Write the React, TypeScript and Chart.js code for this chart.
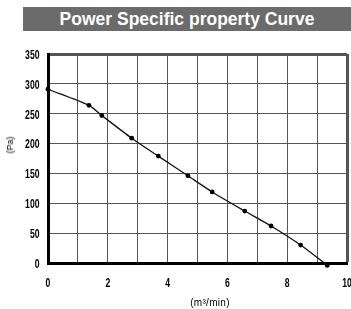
import React, { useEffect, useRef } from "react";
import { Chart, registerables } from "chart.js";

Chart.register(...registerables);

const chartTitle = "Power Specific property Curve";
const xAxisTitle = "(m³/min)";
const yAxisTitle = "(Pa)";
const flowValues = [0, 1.37, 1.8, 2.8, 3.69, 4.68, 5.49, 6.58, 7.46, 8.45, 9.34];
const pressureValues = [291, 264, 247, 209, 179, 146, 119, 87, 62, 30, -4];
const xMin = 0;
const xMax = 10;
const xLabelStep = 2;
const yMin = 0;
const yMax = 350;
const yStep = 50;

const TICK_FONT = "bold 12px 'Liberation Sans', Arial, sans-serif";
const TICK_SQUEEZE = 0.72;

const narrowTickLabels = {
  id: "narrowTickLabels",
  afterDraw(chart: any) {
    const ctx = chart.ctx;
    const xs = chart.scales.x;
    const ys = chart.scales.y;
    ctx.save();
    ctx.fillStyle = "#000";
    ctx.font = TICK_FONT;
    // y labels
    ctx.textAlign = "right";
    ctx.textBaseline = "middle";
    for (const t of ys.ticks) {
      const py = ys.getPixelForValue(t.value) + 1.5;
      ctx.save();
      ctx.translate(39.5, py);
      ctx.scale(TICK_SQUEEZE, 1);
      ctx.fillText(String(t.value), 0, 0);
      ctx.restore();
    }
    // x labels
    ctx.textAlign = "center";
    for (const t of xs.ticks) {
      if (t.value % xLabelStep !== 0) continue;
      const px = xs.getPixelForValue(t.value);
      ctx.save();
      ctx.translate(px, 284);
      ctx.scale(TICK_SQUEEZE, 1);
      ctx.fillText(String(t.value), 0, 0);
      ctx.restore();
    }
    ctx.restore();
  },
};

export default function App() {
  const canvasRef = useRef<HTMLCanvasElement | null>(null);

  useEffect(() => {
    document.body.style.margin = "0";
    const canvas = canvasRef.current;
    if (!canvas) return;
    const chart = new Chart(canvas, {
      type: "line",
      data: {
        datasets: [
          {
            data: flowValues.map((x, i) => ({ x, y: pressureValues[i] })),
            borderColor: "#111",
            borderWidth: 1.3,
            backgroundColor: "#000",
            pointRadius: 2.4,
            pointBorderWidth: 0,
            pointBackgroundColor: "#000",
            tension: 0.25,
            clip: 10,
          },
        ],
      },
      plugins: [narrowTickLabels],
      options: {
        responsive: false,
        animation: false,
        devicePixelRatio: 1,
        layout: { padding: { top: 54, right: 1, left: 0, bottom: 0 } },
        plugins: { legend: { display: false }, tooltip: { enabled: false }, title: { display: false } },
        scales: {
          x: {
            type: "linear",
            min: xMin,
            max: xMax,
            ticks: { stepSize: 1, autoSkip: false, display: false },
            grid: {
              drawTicks: false,
              color: "#555",
              lineWidth: (ctx: any) => (ctx.tick && ctx.tick.value === xMax ? 3 : 1),
            },
            border: { display: true, width: 3, color: "#000" },
            afterFit: (scale: any) => {
              scale.height = 46;
              scale.paddingLeft = 0;
              scale.paddingRight = 0;
            },
          },
          y: {
            type: "linear",
            min: yMin,
            max: yMax,
            ticks: { stepSize: yStep, display: false },
            grid: {
              drawTicks: false,
              color: "#555",
              lineWidth: (ctx: any) => (ctx.tick && ctx.tick.value === yMax ? 3 : 1),
            },
            border: { display: true, width: 3, color: "#000" },
            afterFit: (scale: any) => {
              scale.width = 48;
              scale.paddingTop = 0;
              scale.paddingBottom = 0;
            },
          },
        },
      },
    });
    return () => chart.destroy();
  }, []);

  return (
    <div style={{ position: "fixed", left: 0, top: 0, width: 351, height: 309, background: "#fff", overflow: "hidden" }}>
      <canvas ref={canvasRef} width={351} height={309} style={{ position: "absolute", left: 0, top: 0, width: 351, height: 309 }} />
      <div
        style={{
          position: "absolute",
          left: 23,
          top: 7,
          width: 328,
          height: 24,
          background: "#6b6b6b",
          color: "#fff",
          fontFamily: "'Liberation Sans', Arial, sans-serif",
          fontWeight: "bold",
          fontSize: 17.5,
          lineHeight: "24px",
          textAlign: "center",
          whiteSpace: "nowrap",
        }}
      >
        {chartTitle}
      </div>
      <div
        style={{
          position: "absolute",
          left: 10,
          top: 145,
          transform: "translate(-50%, -50%) rotate(-90deg)",
          fontFamily: "'Liberation Sans', sans-serif",
          fontSize: 9,
          lineHeight: "10px",
          color: "#000",
          whiteSpace: "nowrap",
        }}
      >
        {yAxisTitle}
      </div>
      <div
        style={{
          position: "absolute",
          left: 210,
          top: 303,
          transform: "translate(-50%, -50%)",
          fontFamily: "'Liberation Sans', sans-serif",
          fontSize: 10,
          letterSpacing: "0.3px",
          lineHeight: "12px",
          color: "#000",
          whiteSpace: "nowrap",
        }}
      >
        {xAxisTitle}
      </div>
    </div>
  );
}
